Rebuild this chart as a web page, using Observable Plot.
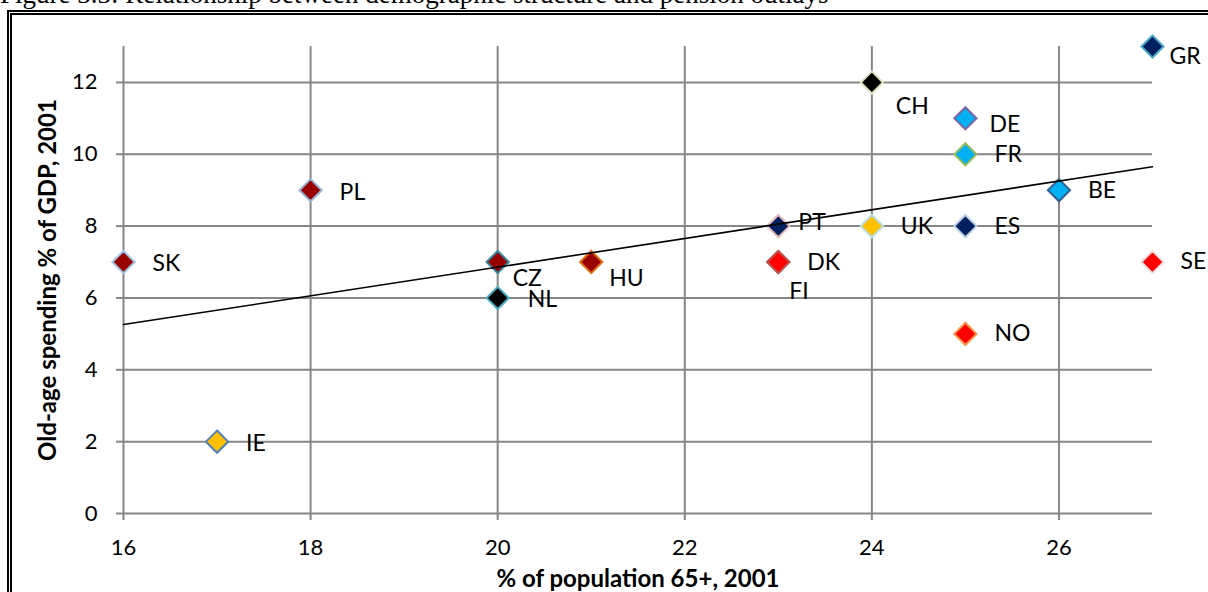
<!DOCTYPE html>
<html>
<head>
<meta charset="utf-8">
<script src="https://cdn.jsdelivr.net/npm/d3@7"></script>
<script src="https://cdn.jsdelivr.net/npm/@observablehq/plot@0.6"></script>
<style>
  html, body { margin: 0; padding: 0; background: #fff; overflow: hidden; }
  #page { position: relative; width: 1208px; height: 592px; overflow: hidden; background: #fff; }
  #title { position: absolute; left: 0; top: -19px; font: 27px/27px "Liberation Serif", "Times New Roman", serif; color: #000; white-space: nowrap; }
  #frame { position: absolute; left: 7px; top: 10px; width: 1400px; height: 800px; border: 5px double #000; box-sizing: border-box; }
  #chart { position: absolute; left: 0; top: 0; }
</style>
</head>
<body>
<div id="page">
  <div id="title">Figure 3.3: Relationship between demographic structure and pension outlays</div>
  <div id="frame"></div>
  <div id="chart"></div>
</div>
<script>
// ---- data ----
const countries = ["SK","PL","IE","CZ","NL","HU","PT","FI","DK","CH","UK","DE","FR","ES","NO","BE","GR","SE"];
const pop65     = [16, 18, 17, 20, 20, 21, 23, 23, 23, 24, 24, 25, 25, 25, 25, 26, 27, 27];
const oldAgeSpending = [7, 9, 2, 7, 6, 7, 8, 7, 7, 12, 8, 11, 10, 8, 5, 9, 13, 7];
const xTicks = [16, 18, 20, 22, 24, 26];
const yTicks = [0, 2, 4, 6, 8, 10, 12];
const xLabel = "% of population 65+, 2001";
const yLabel = "Old-age spending % of GDP, 2001";

// ---- styles (marker colours and label placement) ----
const fills   = ["#990000","#990000","#FFC000","#990000","#000000","#990000","#002060","#FF0000","#FF0000","#000000","#FFC000","#00B0F0","#00B0F0","#002060","#FF0000","#00B0F0","#002060","#FF0000"];
const strokes = ["#9DC3E6","#95B3D7","#4F81BD","#31859C","#4BACC6","#E46C0A","#E6B9B8","#C0504D","#C0504D","#D7E4BD","#B7DEE8","#8064A2","#9BBB59","#B9CDE5","#F79646","#366092","#4BACC6","#F2DCDB"];
const labelDx = [29, 29, 29, 15, 30, 18, 20, 11, 29, 24, 29, 24, 29, 29, 29, 29, 17, 28];
const labelDy = [ 2,  2,  2, 17,  2, 17, -3, 30,  1, 24,  1,  6,  0,  1,  0,  0, 10,  0];

const rows = countries.map((c, i) => ({
  country: c, x: pop65[i], y: oldAgeSpending[i],
  fill: fills[i], stroke: strokes[i], dx: labelDx[i], dy: labelDy[i]
}));

const grid = "#868686";
const font = "Lato, 'Open Sans', sans-serif";

const plot = Plot.plot({
  width: 1208,
  height: 592,
  marginLeft: 123,
  marginRight: 56,
  marginTop: 46,
  marginBottom: 79,
  style: { fontFamily: font, background: "transparent", overflow: "visible" },
  x: { domain: [16, 27] },
  y: { domain: [0, 13] },
  color: { type: "identity" },
  marks: [
    Plot.gridX(xTicks, { stroke: grid, strokeOpacity: 1, strokeWidth: 2 }),
    Plot.gridY(yTicks, { stroke: grid, strokeOpacity: 1, strokeWidth: 2 }),
    Plot.axisX(xTicks, { tickSize: 7, tickPadding: 19, stroke: grid, strokeWidth: 2, fontSize: 22, fill: "#000", label: null, tickFormat: d => String(d) }),
    Plot.axisY(yTicks, { tickSize: 7, tickPadding: 19, stroke: grid, strokeWidth: 2, fontSize: 22, fill: "#000", label: null, tickFormat: d => String(d) }),
    Plot.dot(rows, { x: "x", y: "y", symbol: "diamond2", r: 10, fill: "fill", stroke: "stroke", strokeWidth: 2 }),
    Plot.linearRegressionY(rows, { x: "x", y: "y", stroke: "#000", strokeWidth: 1.6, ci: 0 }),
    ...rows.map(d => Plot.text([d], { x: "x", y: "y", text: "country", textAnchor: "start", dx: d.dx, dy: d.dy, fontSize: 23, fill: "#000" })),
    Plot.text([xLabel], { frameAnchor: "bottom", text: d => d, textAnchor: "middle", lineAnchor: "middle", dy: 66, fontSize: 24, fontWeight: "bold", fill: "#000" }),
    Plot.text([yLabel], { frameAnchor: "left", text: d => d, textAnchor: "middle", lineAnchor: "middle", dx: -75, rotate: -90, fontSize: 24, fontWeight: "bold", fill: "#000" })
  ]
});
document.getElementById("chart").appendChild(plot);
</script>
</body>
</html>
